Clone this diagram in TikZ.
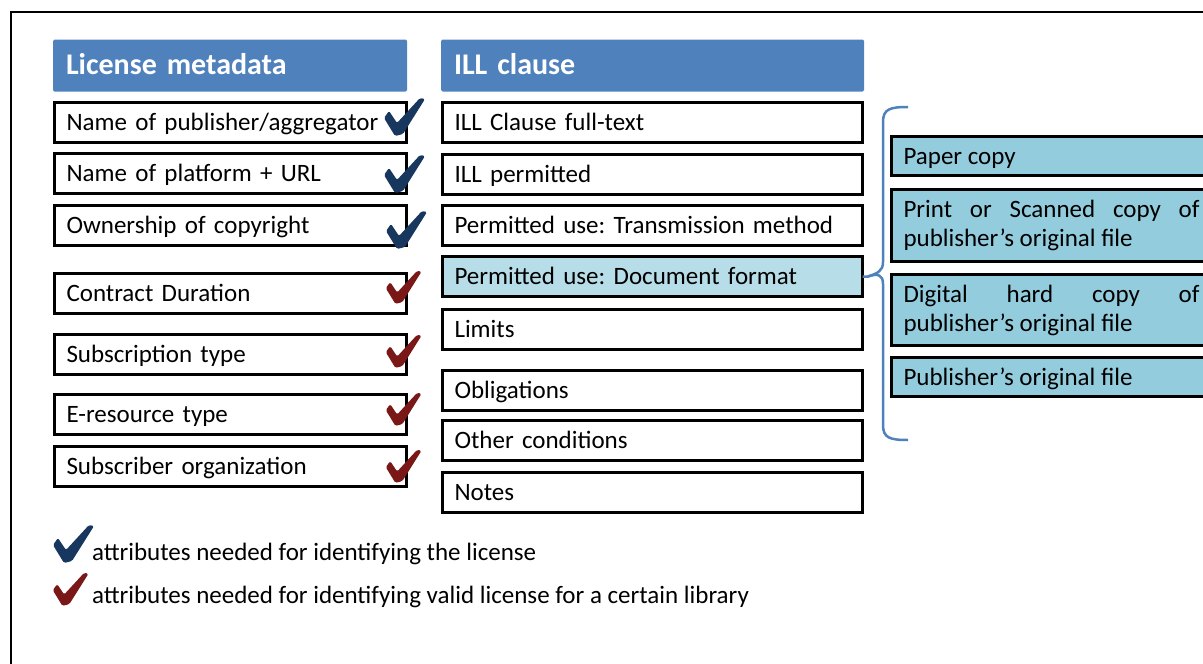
\documentclass[tikz,border=0pt]{standalone}
\usepackage{fontspec}
\setmainfont{Carlito}
\definecolor{hdrblue}{HTML}{4F81BD}
\definecolor{chkblue}{HTML}{17375E}
\definecolor{chkred}{HTML}{7A1717}
\definecolor{docfill}{HTML}{B7DDE8}
\definecolor{rfill}{HTML}{93CDDD}
\frenchspacing
\begin{document}
\begin{tikzpicture}[x=1pt,y=-1pt,
  every node/.style={font=\fontsize{25}{29}\selectfont\frenchspacing, outer sep=0pt},
  hdr/.style={fill=hdrblue, text=white, font=\fontsize{30}{36}\selectfont\bfseries,
    rounded corners=1.5pt, anchor=west, inner xsep=13pt, inner ysep=0pt,
    minimum height=52pt, text height=23pt, text depth=6pt, align=left},
  lbox/.style={draw=black, line width=3pt, fill=white, anchor=west, text width=328pt,
    inner xsep=12pt, inner ysep=2pt, minimum height=40pt, text height=20pt, text depth=4pt, align=left},
  mbox/.style={lbox, text width=396pt},
  rbox/.style={draw=black, line width=3pt, fill=rfill, anchor=west, text width=296pt,
    inner xsep=12pt, inner ysep=2pt, align=justify},
  legend/.style={anchor=base west, inner sep=0pt},
  pics/chk/.style={code={
    \fill[#1, rounded corners=1.5pt] (-3,1) -- (-14,-17) -- (-9,-24) -- (-1,-12)
      -- (22,-37) -- (27,-36) -- (5,-1) -- cycle;}},
  bracecol/.style={draw=hdrblue, line width=2.5pt}
]
\path[use as bounding box] (0,0) rectangle (1203,664);
\clip (0,0) rectangle (1203,664);

% frame
\draw[line width=2pt] (11,664) -- (11,12) -- (1210,12);

% headers
\node[hdr, text width=328pt] (lh) at (53,65.5) {License metadata};
\node[hdr, text width=397pt] (mh) at (441,65.5) {ILL clause};

% left column
\node[lbox] (l1) at (54.5,122) {Name of publisher/aggregator};
\node[lbox] (l2) at (54.5,173.5) {Name of platform + URL};
\node[lbox] (l3) at (54.5,225.5) {Ownership of copyright};
\node[lbox] (l4) at (54.5,293.5) {Contract Duration};
\node[lbox] (l5) at (54.5,354.5) {Subscription type};
\node[lbox] (l6) at (54.5,414) {E-resource type};
\node[lbox] (l7) at (54.5,466) {Subscriber organization};

% middle column
\node[mbox] (m1) at (442.5,122) {ILL Clause full-text};
\node[mbox] (m2) at (442.5,174) {ILL permitted};
\node[mbox] (m3) at (442.5,225) {Permitted use: Transmission method};
\node[mbox, fill=docfill] (m4) at (442.5,276.5) {Permitted use: Document format};
\node[mbox] (m5) at (442.5,329) {Limits};
\node[mbox] (m6) at (442.5,390) {Obligations};
\node[mbox] (m7) at (442.5,440.5) {Other conditions};
\node[mbox] (m8) at (442.5,492) {Notes};

% right column
\node[rbox, minimum height=39pt, text height=20pt, text depth=4pt] (r1) at (891.5,156) {Paper copy};
\node[rbox, minimum height=72pt] (r2) at (891.5,225.5) {Print or Scanned copy of\linebreak publisher’s original file};
\node[rbox, minimum height=71pt] (r3) at (891.5,310) {Digital hard copy of\linebreak publisher’s original file};
\node[rbox, minimum height=39pt, text height=20pt, text depth=4pt] (r4) at (891.5,377) {Publisher’s original file};

% brace
\coordinate (btop) at (908,107);
\coordinate (bbot) at (908,440);
\coordinate (btip) at (m4.east);
\draw[bracecol] (btop) .. controls (890,107) and (883,109) .. (883,122)
  -- (883,262) .. controls (883,271) and (878,273) .. (btip -| 868,0)
  -- (btip);
\draw[bracecol] (btip -| 868,0) .. controls (878,273) and (883,275) .. (883,284)
  -- (883,425) .. controls (883,438) and (890,440) .. (bbot);

% check marks
\pic at (398,135) {chk=chkblue};
\pic at (398,192) {chk=chkblue};
\pic at (400,248) {chk=chkblue};
\pic[scale=0.87] at (398,303) {chk=chkred};
\pic[scale=0.87] at (398,367) {chk=chkred};
\pic[scale=0.87] at (398,425) {chk=chkred};
\pic[scale=0.87] at (398,482) {chk=chkred};

% legend
\pic at (67,562) {chk=chkblue};
\pic[scale=0.87] at (65,605) {chk=chkred};
\node[legend] (t1) at (92,560) {attributes needed for identifying the license};
\node[legend] (t2) at (92,603) {attributes needed for identifying valid license for a certain library};
\end{tikzpicture}
\end{document}
